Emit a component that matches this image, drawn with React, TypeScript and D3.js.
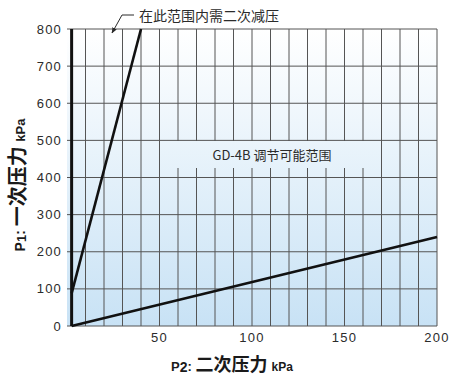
import * as React from 'react'
import * as d3 from 'd3'

const width = 456
const height = 376
const margin = { top: 29, right: 19, bottom: 50, left: 67 }

// P2 (secondary) / P1 (primary) pressure, kPa
const yTicks = [0, 100, 200, 300, 400, 500, 600, 700, 800]
const xTicks = [50, 100, 150, 200]
const xGrid = d3.range(10, 201, 10)
const minLine = [
  { p2: 2.5, p1: 0 },
  { p2: 2.5, p1: 800 },
]
const upperLine = [
  { p2: 2.5, p1: 88 },
  { p2: 40, p1: 800 },
]
const lowerLine = [
  { p2: 2.5, p1: 0 },
  { p2: 200, p1: 240 },
]

const numFont = '"Liberation Sans", Arial, sans-serif'
const cjkFont = '"Noto Sans CJK SC", "Liberation Sans", sans-serif'
const ink = '#2b2b2b'

const App = () => {
  const x = d3
    .scaleLinear()
    .domain([0, 200])
    .range([margin.left, width - margin.right])
  const y = d3
    .scaleLinear()
    .domain([0, 800])
    .range([height - margin.bottom, margin.top])

  const line = d3
    .line<{ p2: number; p1: number }>()
    .x(d => x(d.p2))
    .y(d => y(d.p1))

  const x0 = x(0)
  const x1 = x(200)
  const y0 = y(0)
  const y1 = y(800)

  return (
    <svg
      width={width}
      height={height}
      style={{ position: 'absolute', left: 0, top: 0, background: '#fff' }}
    >
      <defs>
        <linearGradient id="bg" gradientUnits="userSpaceOnUse" x1={0} y1={y1} x2={0} y2={y0}>
          <stop offset="0" stopColor="#ffffff" />
          <stop offset="1" stopColor="#c8e2f5" />
        </linearGradient>
        <marker id="arr" viewBox="0 0 10 10" refX="9" refY="5" markerWidth="6" markerHeight="6" orient="auto">
          <path d="M0,1 L10,5 L0,9 z" fill={ink} />
        </marker>
      </defs>

      <rect x={x0} y={y1} width={x1 - x0} height={y0 - y1} fill="url(#bg)" />

      {/* grid */}
      <g stroke="#555" strokeWidth={1}>
        {xGrid.map(v => (
          <line key={'v' + v} x1={x(v)} x2={x(v)} y1={y1} y2={y0} />
        ))}
        {yTicks.map(v => (
          <line key={'h' + v} x1={x0} x2={x1} y1={y(v)} y2={y(v)} />
        ))}
      </g>

      {/* label box hides grid */}
      <rect x={173} y={141} width={205} height={27} fill="url(#bg)" />
      <text
        x={272}
        y={160}
        textAnchor="middle"
        fontFamily={cjkFont}
        fontSize={13}
        fill={ink}
      >
        GD-4B 调节可能范围
      </text>

      {/* lines */}
      <path d={line(minLine) ?? ''} stroke="#111" strokeWidth={3} fill="none" />
      <path d={line(upperLine) ?? ''} stroke="#111" strokeWidth={2.6} fill="none" />
      <path d={line(lowerLine) ?? ''} stroke="#111" strokeWidth={2.6} fill="none" />

      {/* y tick labels */}
      {yTicks.map(v => (
        <text
          key={'yl' + v}
          x={62}
          y={y(v)}
          dy="0.35em"
          textAnchor="end"
          fontFamily={numFont}
          fontSize={13}
          letterSpacing={1.2}
          fill={ink}
        >
          {v}
        </text>
      ))}

      {/* x tick labels */}
      {xTicks.map(v => (
        <text
          key={'xl' + v}
          x={x(v)}
          y={342}
          textAnchor="middle"
          fontFamily={numFont}
          fontSize={13}
          letterSpacing={1.2}
          fill={ink}
        >
          {v}
        </text>
      ))}

      {/* annotation */}
      <path d="M134,15 L122,15 L112,33" stroke={ink} strokeWidth={1} fill="none" markerEnd="url(#arr)" />
      <text x={139} y={21} fontFamily={cjkFont} fontSize={14} fill={ink}>
        在此范围内需二次减压
      </text>

      {/* x axis title */}
      <text x={232} y={371} textAnchor="middle" fontFamily={cjkFont} fontWeight="bold" fill="#1a1a1a">
        <tspan fontFamily={numFont} fontSize={13}>P</tspan>
        <tspan fontFamily={numFont} fontSize={14} dy={1}>2</tspan>
        <tspan fontFamily={numFont} fontSize={13} dy={-1}>: </tspan>
        <tspan fontSize={18}>二次压力 </tspan>
        <tspan fontFamily={numFont} fontSize={12}>kPa</tspan>
      </text>

      {/* y axis title */}
      <text
        transform={`translate(25, 185) rotate(-90)`}
        textAnchor="middle"
        fontFamily={cjkFont}
        fontWeight="bold"
        fill="#1a1a1a"
      >
        <tspan fontFamily={numFont} fontSize={14}>P</tspan>
        <tspan fontFamily={numFont} fontSize={13} dy={1}>1</tspan>
        <tspan fontFamily={numFont} fontSize={14} dy={-1}>: </tspan>
        <tspan fontSize={20}>一次压力 </tspan>
        <tspan fontFamily={numFont} fontSize={13}>kPa</tspan>
      </text>
    </svg>
  )
}

export default App
